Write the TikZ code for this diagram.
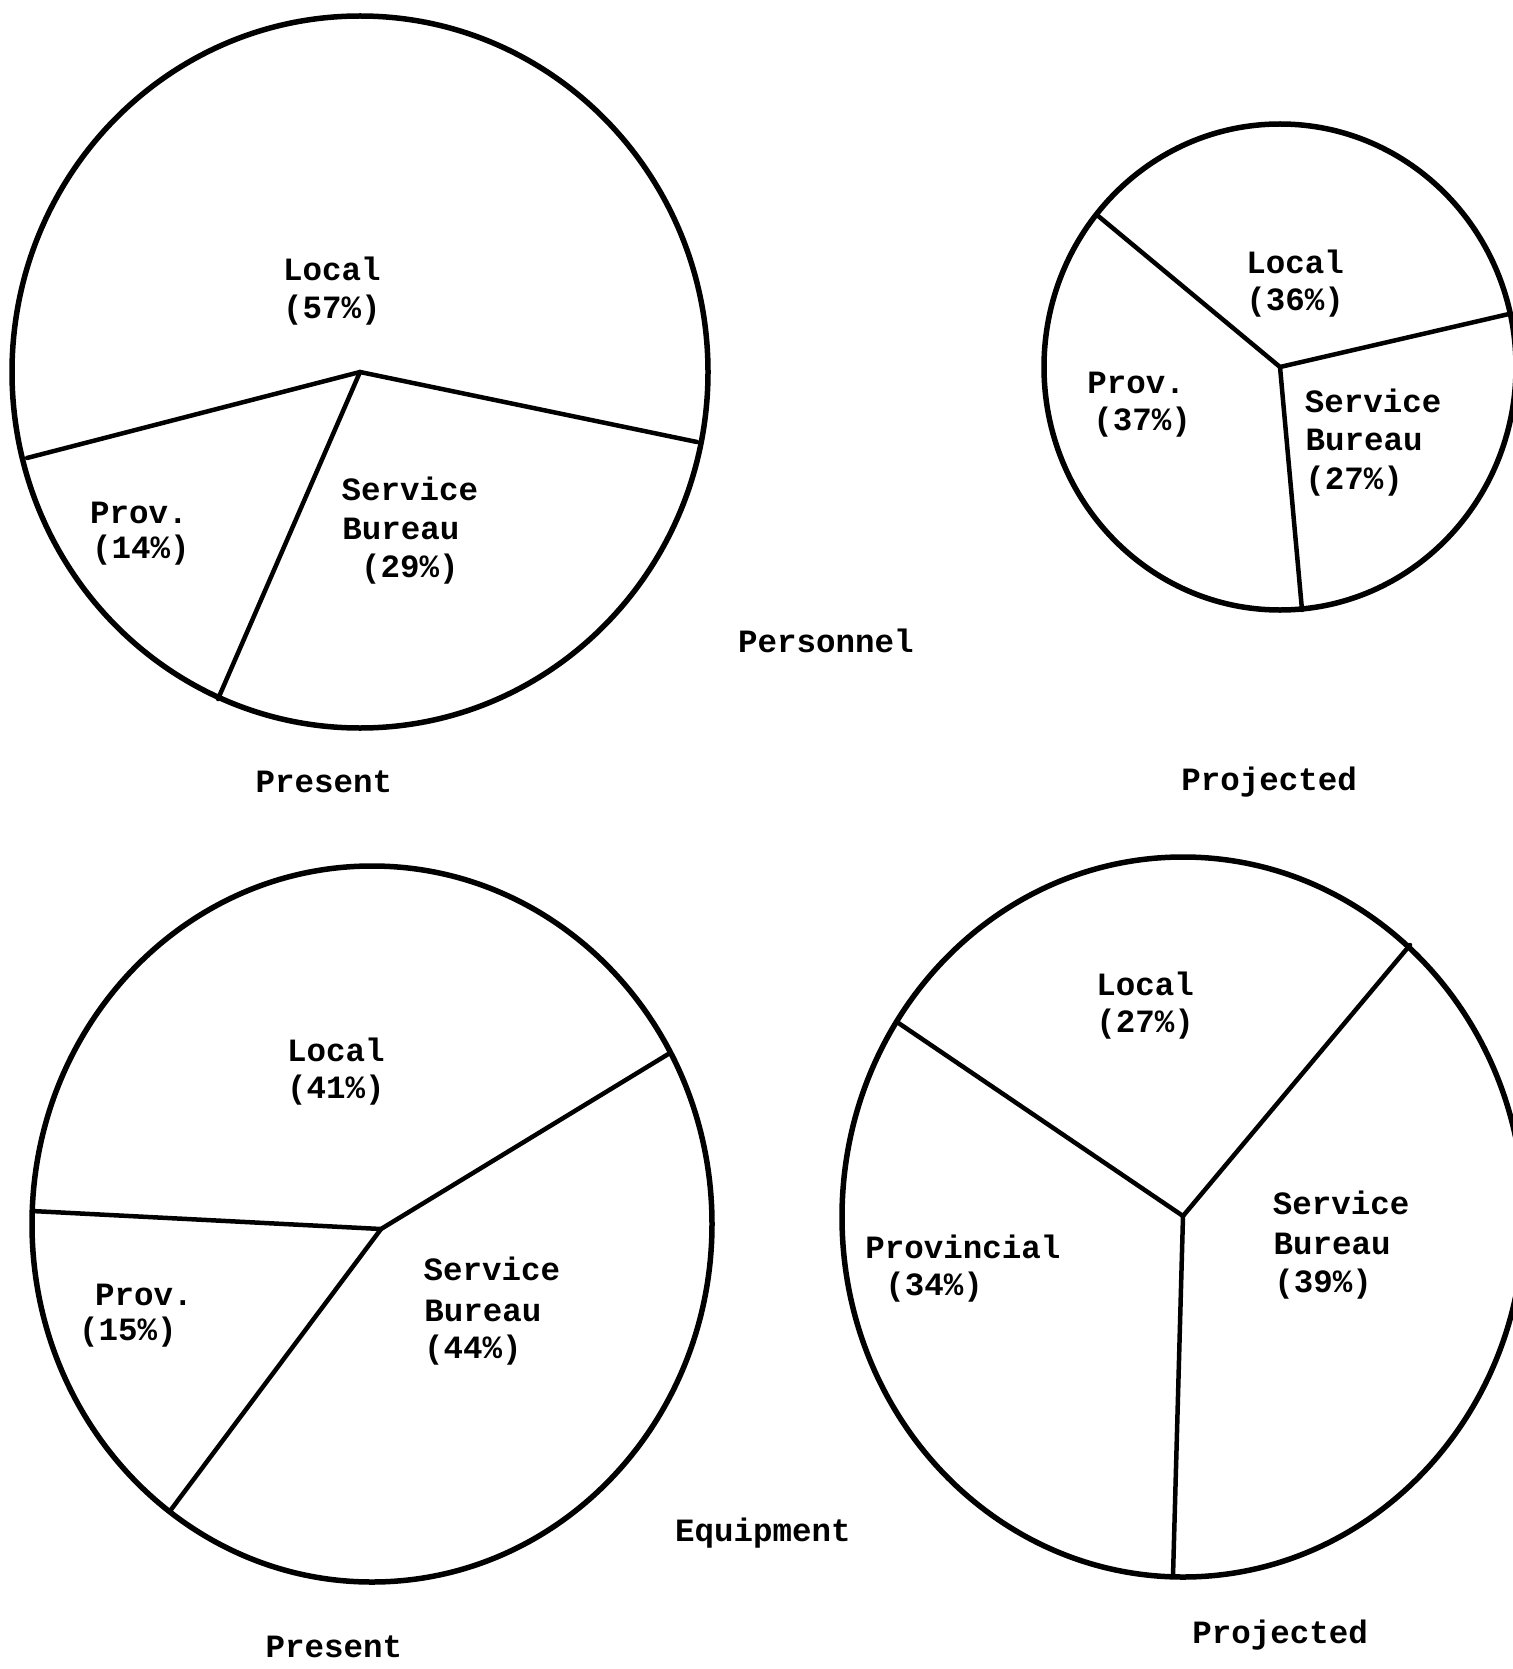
\documentclass[tikz,border=0pt]{standalone}
\usepackage{fontspec}
\newfontfamily\tw{Liberation Mono}
\begin{document}
\begin{tikzpicture}[x=1pt,y=-1pt,
  rim/.style={line width=5.5pt},
  cut/.style={line width=4.5pt,line cap=round},
  lbl/.style={font=\tw\bfseries\fontsize{32.5}{39}\selectfont,inner sep=0pt,anchor=center}]
\useasboundingbox[fill=white] (0,0) rectangle (1512,1669);
% ---------- Personnel, Present ----------
\coordinate (c1) at (360,372);
\coordinate (a1) at (27,458);
\coordinate (b1) at (697,442);
\coordinate (d1) at (218,699);
\draw[rim] (360,372) ellipse [x radius=348, y radius=356];
\draw[cut] (a1) -- (c1) -- (b1);
\draw[cut] (c1) -- (d1);
\node[lbl] (l1a) at (332,269) {Local};
\node[lbl] (l1b) at (332,310) {(57\%)};
\node[lbl] (p1a) at (139,513) {Prov.};
\node[lbl] (p1b) at (141,550) {(14\%)};
\node[lbl] (s1a) at (410,489) {Service};
\node[lbl] (s1b) at (401,529) {Bureau};
\node[lbl] (s1c) at (410,569) {(29\%)};
% ---------- Personnel, Projected ----------
\coordinate (c2) at (1280,367);
\coordinate (a2) at (1097,215);
\coordinate (b2) at (1509,314);
\coordinate (d2) at (1302,610);
\draw[rim] (1280,367) ellipse [x radius=236, y radius=243];
\draw[cut] (a2) -- (c2) -- (b2);
\draw[cut] (c2) -- (d2);
\node[lbl] (l2a) at (1295,262) {Local};
\node[lbl] (l2b) at (1295,302) {(36\%)};
\node[lbl] (p2a) at (1136,383) {Prov.};
\node[lbl] (p2b) at (1142,422) {(37\%)};
\node[lbl] (s2a) at (1373,401) {Service};
\node[lbl] (s2b) at (1364,440) {Bureau};
\node[lbl] (s2c) at (1354,481) {(27\%)};
% ---------- Equipment, Present ----------
\coordinate (c3) at (381,1229);
\coordinate (a3) at (32,1211);
\coordinate (b3) at (670,1053);
\coordinate (d3) at (170,1511);
\draw[rim] (372,1224) ellipse [x radius=340, y radius=358];
\draw[cut] (a3) -- (c3) -- (b3);
\draw[cut] (c3) -- (d3);
\node[lbl] (l3a) at (336,1050) {Local};
\node[lbl] (l3b) at (336,1090) {(41\%)};
\node[lbl] (p3a) at (144,1295) {Prov.};
\node[lbl] (p3b) at (128,1332) {(15\%)};
\node[lbl] (s3a) at (492,1269) {Service};
\node[lbl] (s3b) at (483,1311) {Bureau};
\node[lbl] (s3c) at (473,1350) {(44\%)};
% ---------- Equipment, Projected ----------
\coordinate (c4) at (1183,1216);
\coordinate (a4) at (897,1022);
\coordinate (b4) at (1410,945);
\coordinate (d4) at (1173,1576);
\draw[rim] (1183,1217) ellipse [x radius=341, y radius=360];
\draw[cut] (a4) -- (c4) -- (b4);
\draw[cut] (c4) -- (d4);
\node[lbl] (l4a) at (1145,984) {Local};
\node[lbl] (l4b) at (1145,1024) {(27\%)};
\node[lbl] (p4a) at (963,1247) {Provincial};
\node[lbl] (p4b) at (934,1287) {(34\%)};
\node[lbl] (s4a) at (1341,1203) {Service};
\node[lbl] (s4b) at (1332,1244) {Bureau};
\node[lbl] (s4c) at (1323,1284) {(39\%)};
% ---------- captions ----------
\node[lbl] (pers) at (826,641) {Personnel};
\node[lbl] (pres1) at (324,782) {Present};
\node[lbl] (proj1) at (1269,782) {Projected};
\node[lbl] (equip) at (763,1533) {Equipment};
\node[lbl] (pres2) at (334,1647) {Present};
\node[lbl] (proj2) at (1280,1635) {Projected};
\end{tikzpicture}
\end{document}
